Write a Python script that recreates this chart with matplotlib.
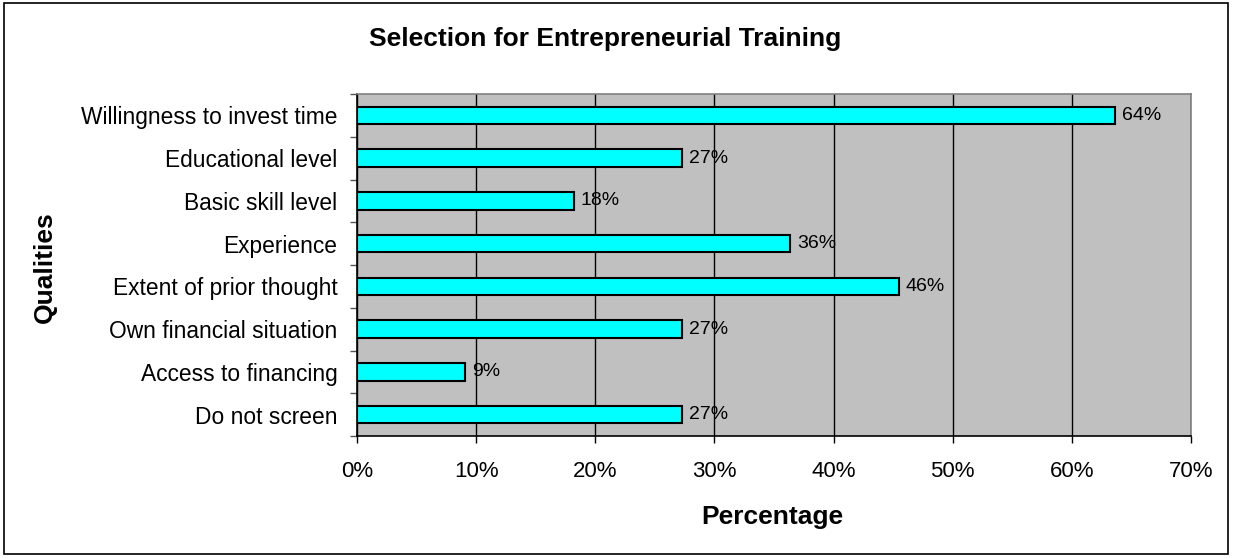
import numpy as np
import matplotlib.pyplot as plt
from matplotlib.patches import Rectangle
from matplotlib.ticker import FuncFormatter, MultipleLocator

qualities = ['Willingness to invest time', 'Educational level', 'Basic skill level',
             'Experience', 'Extent of prior thought', 'Own financial situation',
             'Access to financing', 'Do not screen']
# responses out of 11
counts = [7, 3, 2, 4, 5, 3, 1, 3]
total = 11
values = [c / total for c in counts]
value_labels = ['64%', '27%', '18%', '36%', '46%', '27%', '9%', '27%']

plt.rcParams['font.family'] = ['Liberation Sans', 'DejaVu Sans']

fig = plt.figure(figsize=(12.33, 5.58), dpi=100)
ax = fig.add_axes([357 / 1233, 1 - 436 / 558, (1191 - 357) / 1233, (436 - 94) / 558])

# outer border of the chart
fig.patches.append(Rectangle((4 / 1233, 4 / 558), 1224 / 1233, 551 / 558,
                             transform=fig.transFigure, fill=False,
                             edgecolor='black', lw=1.2))

y = np.arange(len(qualities))
ax.set_facecolor('#c0c0c0')
ax.barh(y, values, height=0.415, color='#00ffff', edgecolor='black', lw=1.5, zorder=3)
for yi, v, lab in zip(y, values, value_labels):
    ax.text(v + 0.006, yi, lab, va='center', ha='left', fontsize=14, zorder=4)

ax.set_xlim(0, 0.7)
ax.set_ylim(len(qualities) - 0.5, -0.5)
ax.xaxis.set_major_locator(MultipleLocator(0.1))
ax.xaxis.set_major_formatter(FuncFormatter(lambda x, p: '%d%%' % round(x * 100)))
ax.grid(axis='x', color='black', lw=1, zorder=1)

ax.set_yticks(y)
ax.set_yticklabels(qualities)
ax.set_yticks(np.arange(len(qualities) + 1) - 0.5, minor=True)
ax.tick_params(axis='y', which='major', length=0, pad=14, labelsize=16.4)
ax.tick_params(axis='y', which='minor', length=5, color='#555555', width=1)
ax.tick_params(axis='x', length=5, width=1, pad=13, labelsize=16)

for s in ax.spines.values():
    s.set_color('#808080')
    s.set_linewidth(1.2)
ax.spines['bottom'].set_color('black')
ax.spines['left'].set_color('black')

fig.text(772 / 1233, 1 - 517 / 558, 'Percentage', fontsize=19, fontweight='bold',
         ha='center', va='center')
fig.text(45 / 1233, 1 - 267 / 558, 'Qualities', rotation=90, fontsize=19,
         fontweight='bold', ha='center', va='center')
fig.text(605 / 1233, 1 - 39 / 558, 'Selection for Entrepreneurial Training',
         fontsize=19, fontweight='bold', ha='center', va='center')

fig.savefig('out.png', dpi=100)
